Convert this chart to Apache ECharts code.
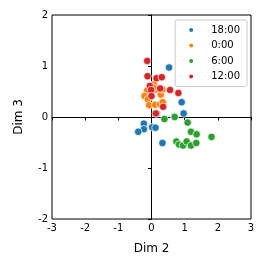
<!DOCTYPE html>
<html><head><meta charset="utf-8">
<script src="https://cdn.jsdelivr.net/npm/echarts@6/dist/echarts.min.js"></script>
<style>html,body{margin:0;padding:0;background:#fff}#c{width:266px;height:266px}</style>
</head><body><div id="c"></div>
<script>
const seriesNames = ['18:00', '0:00', '6:00', '12:00'];
const colors = ['#1f77b4', '#ff7f0e', '#2ca02c', '#d62728'];
const xTicks = [-3, -2, -1, 0, 1, 2, 3];
const yTicks = [-2, -1, 0, 1, 2];

const pts1800 = [[0.53,0.97],[0.91,0.29],[0.97,0.07],[0.69,0.01],[0.16,0.07],[-0.23,-0.13],[-0.23,-0.24],[-0.40,-0.29],[0.02,-0.20],[0.12,-0.21],[0.33,-0.51]];
const pts0000 = [[0.08,0.64],[-0.13,0.52],[-0.21,0.41],[-0.11,0.35],[-0.07,0.23],[0.11,0.24],[0.26,0.25],[0.34,0.29],[0.28,0.44],[0.33,0.54],[0.12,0.54],[0.01,0.56],[0.05,0.58]];
const pts0600 = [[0.39,-0.04],[0.70,0.00],[1.09,-0.11],[1.19,-0.29],[1.36,-0.34],[1.81,-0.39],[0.75,-0.48],[0.83,-0.54],[0.95,-0.56],[1.06,-0.48],[1.19,-0.56],[1.35,-0.51]];
const pts1200 = [[-0.13,1.10],[-0.12,0.80],[0.15,0.76],[0.31,0.78],[-0.05,0.61],[-0.01,0.53],[0.00,0.41],[0.26,0.56],[0.56,0.53],[0.81,0.47],[0.35,0.20],[0.13,0.07]];
const allPts = [pts1800, pts0000, pts0600, pts1200];

const font = 'DejaVu Sans';
const chart = echarts.init(document.getElementById('c'), null, {renderer: 'canvas'});
chart.setOption({
  animation: false,
  backgroundColor: '#fff',
  grid: {left: 52, right: 15, top: 15, bottom: 47, show: true, borderColor: '#000', borderWidth: 1, backgroundColor: 'transparent'},
  xAxis: {
    type: 'value', min: xTicks[0], max: xTicks[xTicks.length-1], interval: 1,
    name: 'Dim 2', nameLocation: 'middle', nameGap: 24,
    nameTextStyle: {fontFamily: font, fontSize: 12, color: '#000'},
    axisLine: {show: true, lineStyle: {color: '#000', width: 1}},
    axisTick: {show: true, inside: false, length: 3.5, lineStyle: {color: '#000'}},
    axisLabel: {fontFamily: font, fontSize: 10, color: '#000', margin: 4},
    splitLine: {show: false}
  },
  yAxis: {
    type: 'value', min: yTicks[0], max: yTicks[yTicks.length-1], interval: 1,
    name: 'Dim 3', nameLocation: 'middle', nameGap: 27,
    nameTextStyle: {fontFamily: font, fontSize: 12, color: '#000'},
    axisLine: {show: true, lineStyle: {color: '#000', width: 1}},
    axisTick: {show: true, inside: false, length: 3.5, lineStyle: {color: '#000'}},
    axisLabel: {fontFamily: font, fontSize: 10, color: '#000', margin: 4},
    splitLine: {show: false}
  },
  legend: {
    orient: 'vertical', right: 19, top: 20,
    data: seriesNames.map(n => ({name: n, icon: 'circle'})),
    itemWidth: 6, itemHeight: 6, itemGap: 5.5,
    padding: [5, 7, 5, 12],
    textStyle: {fontFamily: font, fontSize: 10, color: '#000', padding: [0, 0, 0, 12]},
    borderColor: '#ccc', borderWidth: 1, borderRadius: 2,
    backgroundColor: 'rgba(255,255,255,0.8)'
  },
  series: seriesNames.map((n, i) => ({
    name: n, type: 'scatter', data: allPts[i], symbol: 'circle', symbolSize: 7.5,
    itemStyle: {color: colors[i], borderColor: '#fff', borderWidth: 0.7, opacity: 1}
  }))
});
</script></body></html>
